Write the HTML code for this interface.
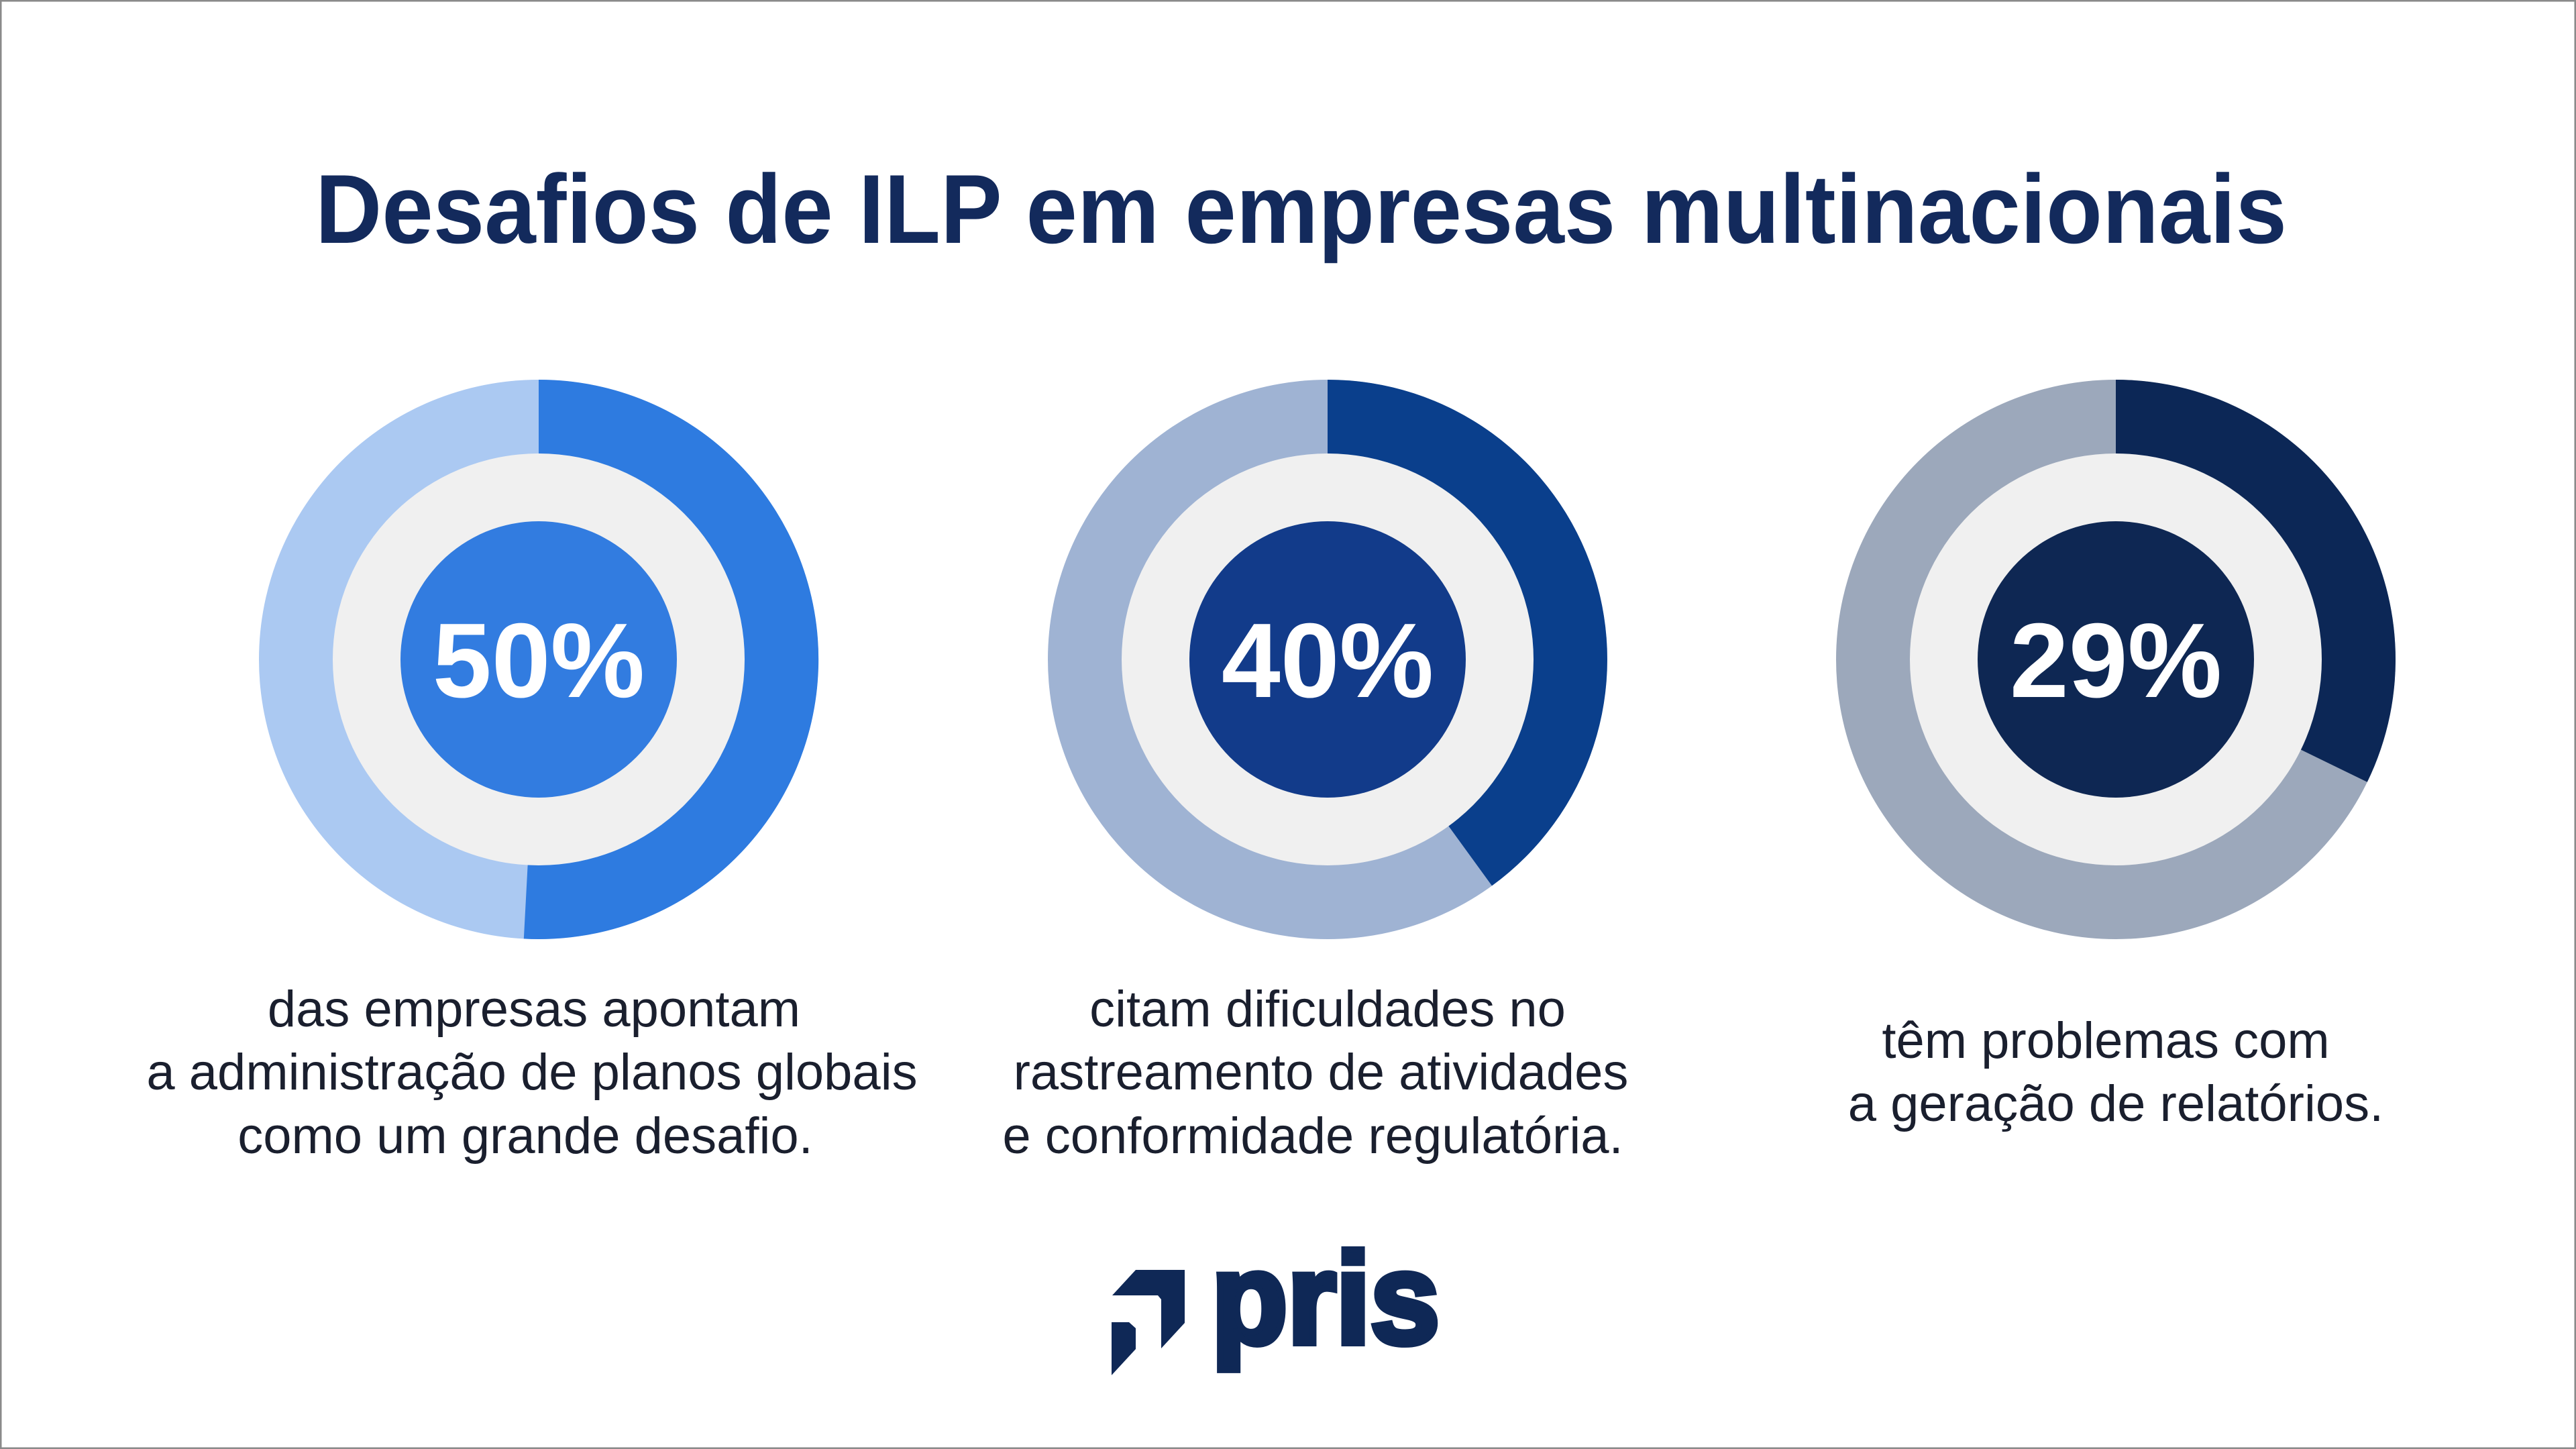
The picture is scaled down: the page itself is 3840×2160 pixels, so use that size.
<!DOCTYPE html>
<html><head><meta charset="utf-8"><style>
html,body{margin:0;padding:0;background:#fff}
svg{display:block}
</style></head><body>
<svg width="3840" height="2160" viewBox="0 0 3840 2160" xmlns="http://www.w3.org/2000/svg">
<rect x="1" y="1" width="3838" height="2158" fill="#fff" stroke="#8a8a8a" stroke-width="3"/>
<text x="470" y="362" font-family="Liberation Sans, sans-serif" font-weight="bold" font-size="146" fill="#132a5c" textLength="2939" lengthAdjust="spacingAndGlyphs">Desafios de ILP em empresas multinacionais</text>

<!-- chart 1 -->
<g transform="translate(803,983)">
<circle r="417" fill="#abc9f2"/>
<path d="M0,-417 A417,417 0 1 1 -22.2,416.4 L0,0 Z" fill="#2e7be0"/>
<circle r="307" fill="#f0f0f0"/>
<circle r="206" fill="#327ce0"/>
<text y="56" text-anchor="middle" font-family="Liberation Sans, sans-serif" font-weight="bold" font-size="158" fill="#fff">50%</text>
</g>
<!-- chart 2 -->
<g transform="translate(1979,983)">
<circle r="417" fill="#9fb3d3"/>
<path d="M0,-417 A417,417 0 0 1 245,337.4 L0,0 Z" fill="#0a3f8c"/>
<circle r="307" fill="#f0f0f0"/>
<circle r="206" fill="#123b8a"/>
<text y="56" text-anchor="middle" font-family="Liberation Sans, sans-serif" font-weight="bold" font-size="158" fill="#fff">40%</text>
</g>
<!-- chart 3 -->
<g transform="translate(3154,983)">
<circle r="417" fill="#9ca8bb"/>
<path d="M0,-417 A417,417 0 0 1 374.8,182.8 L0,0 Z" fill="#0c2756"/>
<circle r="307" fill="#f0f0f0"/>
<circle r="206" fill="#0e2753"/>
<text y="56" text-anchor="middle" font-family="Liberation Sans, sans-serif" font-weight="bold" font-size="158" fill="#fff">29%</text>
</g>

<g font-family="Liberation Sans, sans-serif" font-size="76" fill="#1a1f2e" text-anchor="middle">
<text x="796" y="1530">das empresas apontam</text>
<text x="793" y="1624">a administração de planos globais</text>
<text x="783" y="1719">como um grande desafio.</text>
<text x="1979" y="1530">citam dificuldades no</text>
<text x="1969" y="1624">rastreamento de atividades</text>
<text x="1957" y="1719">e conformidade regulatória.</text>
<text x="3139" y="1577">têm problemas com</text>
<text x="3154" y="1671">a geração de relatórios.</text>
</g>

<!-- logo -->
<g fill="#0f2856">
<polygon points="1693,1893 1766,1893 1766,1972 1731,2010 1731,1937 1726,1931 1658,1931"/>
<polygon points="1657,1971 1683,1971 1693,1980 1693,2011 1657,2050"/>
<text x="1806" y="2002" font-family="Liberation Sans, sans-serif" font-weight="bold" font-size="192" stroke="#0f2856" stroke-width="10" textLength="340" lengthAdjust="spacingAndGlyphs">pris</text>
</g>
</svg>
</body></html>
